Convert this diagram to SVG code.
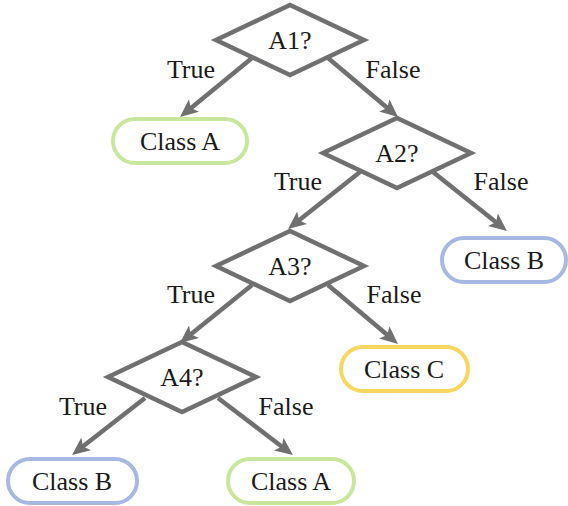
<svg xmlns="http://www.w3.org/2000/svg" width="568" height="506" viewBox="0 0 568 506">
<style>
.d{fill:#fff;stroke:#707070;stroke-width:4.5;stroke-linejoin:miter}
.t{font-size:26px;fill:#1a1a1a;text-anchor:middle}
.e{stroke:#707070;stroke-width:4.5;fill:none;marker-end:url(#ah)}
.b{fill:#fff;stroke-width:4}
.g{stroke:#c8e79c}
.bl{stroke:#a7b9e2}
.y{stroke:#f8d660}
</style>
<defs>
<marker id="ah" markerUnits="userSpaceOnUse" markerWidth="20" markerHeight="16" viewBox="0 0 20 16" refX="10" refY="8" orient="auto">
<path d="M0,0 L18,8 L0,16 L4,8 z" fill="#707070"/>
</marker>
</defs>
<g font-family="Liberation Serif, Times New Roman, serif">
<g id="edges">
<line class="e" x1="252" y1="58" x2="186.2" y2="111.9"/>
<line class="e" x1="328" y1="58" x2="391.9" y2="111.8"/>
<line class="e" x1="360" y1="172" x2="294.3" y2="224"/>
<line class="e" x1="433" y1="172" x2="500.7" y2="226"/>
<line class="e" x1="252" y1="285" x2="186.2" y2="338"/>
<line class="e" x1="328" y1="285" x2="391.9" y2="338.8"/>
<line class="e" x1="145" y1="398" x2="78.3" y2="450.1"/>
<line class="e" x1="218" y1="398" x2="286.6" y2="450.2"/>
<text class="t" x="191" y="78">True</text>
<text class="t" x="393" y="78">False</text>
<text class="t" x="298" y="190">True</text>
<text class="t" x="501" y="190">False</text>
<text class="t" x="191" y="303">True</text>
<text class="t" x="394" y="303">False</text>
<text class="t" x="83" y="415">True</text>
<text class="t" x="286" y="415">False</text>
</g>
<g id="A1"><polygon class="d" points="216,40 290,5 364,40 290,75"/><text class="t" x="290" y="49">A1?</text></g>
<g id="A2"><polygon class="d" points="323,153 397,118 471,153 397,188"/><text class="t" x="397" y="162">A2?</text></g>
<g id="A3"><polygon class="d" points="216,266 290,231 364,266 290,301"/><text class="t" x="290" y="275">A3?</text></g>
<g id="A4"><polygon class="d" points="108,377 182,342 256,377 182,412"/><text class="t" x="182" y="386">A4?</text></g>
<g id="classA1"><rect class="b g" x="113" y="119" width="134" height="44" rx="22"/><text class="t" x="180" y="150">Class A</text></g>
<g id="classB1"><rect class="b bl" x="442" y="238" width="124" height="44" rx="22"/><text class="t" x="504" y="269">Class B</text></g>
<g id="classC"><rect class="b y" x="341" y="347" width="127" height="44" rx="22"/><text class="t" x="404" y="378">Class C</text></g>
<g id="classB2"><rect class="b bl" x="8" y="459" width="129" height="44" rx="22"/><text class="t" x="72" y="490">Class B</text></g>
<g id="classA2"><rect class="b g" x="228" y="459" width="126" height="44" rx="22"/><text class="t" x="291" y="490">Class A</text></g>
</g>
</svg>
